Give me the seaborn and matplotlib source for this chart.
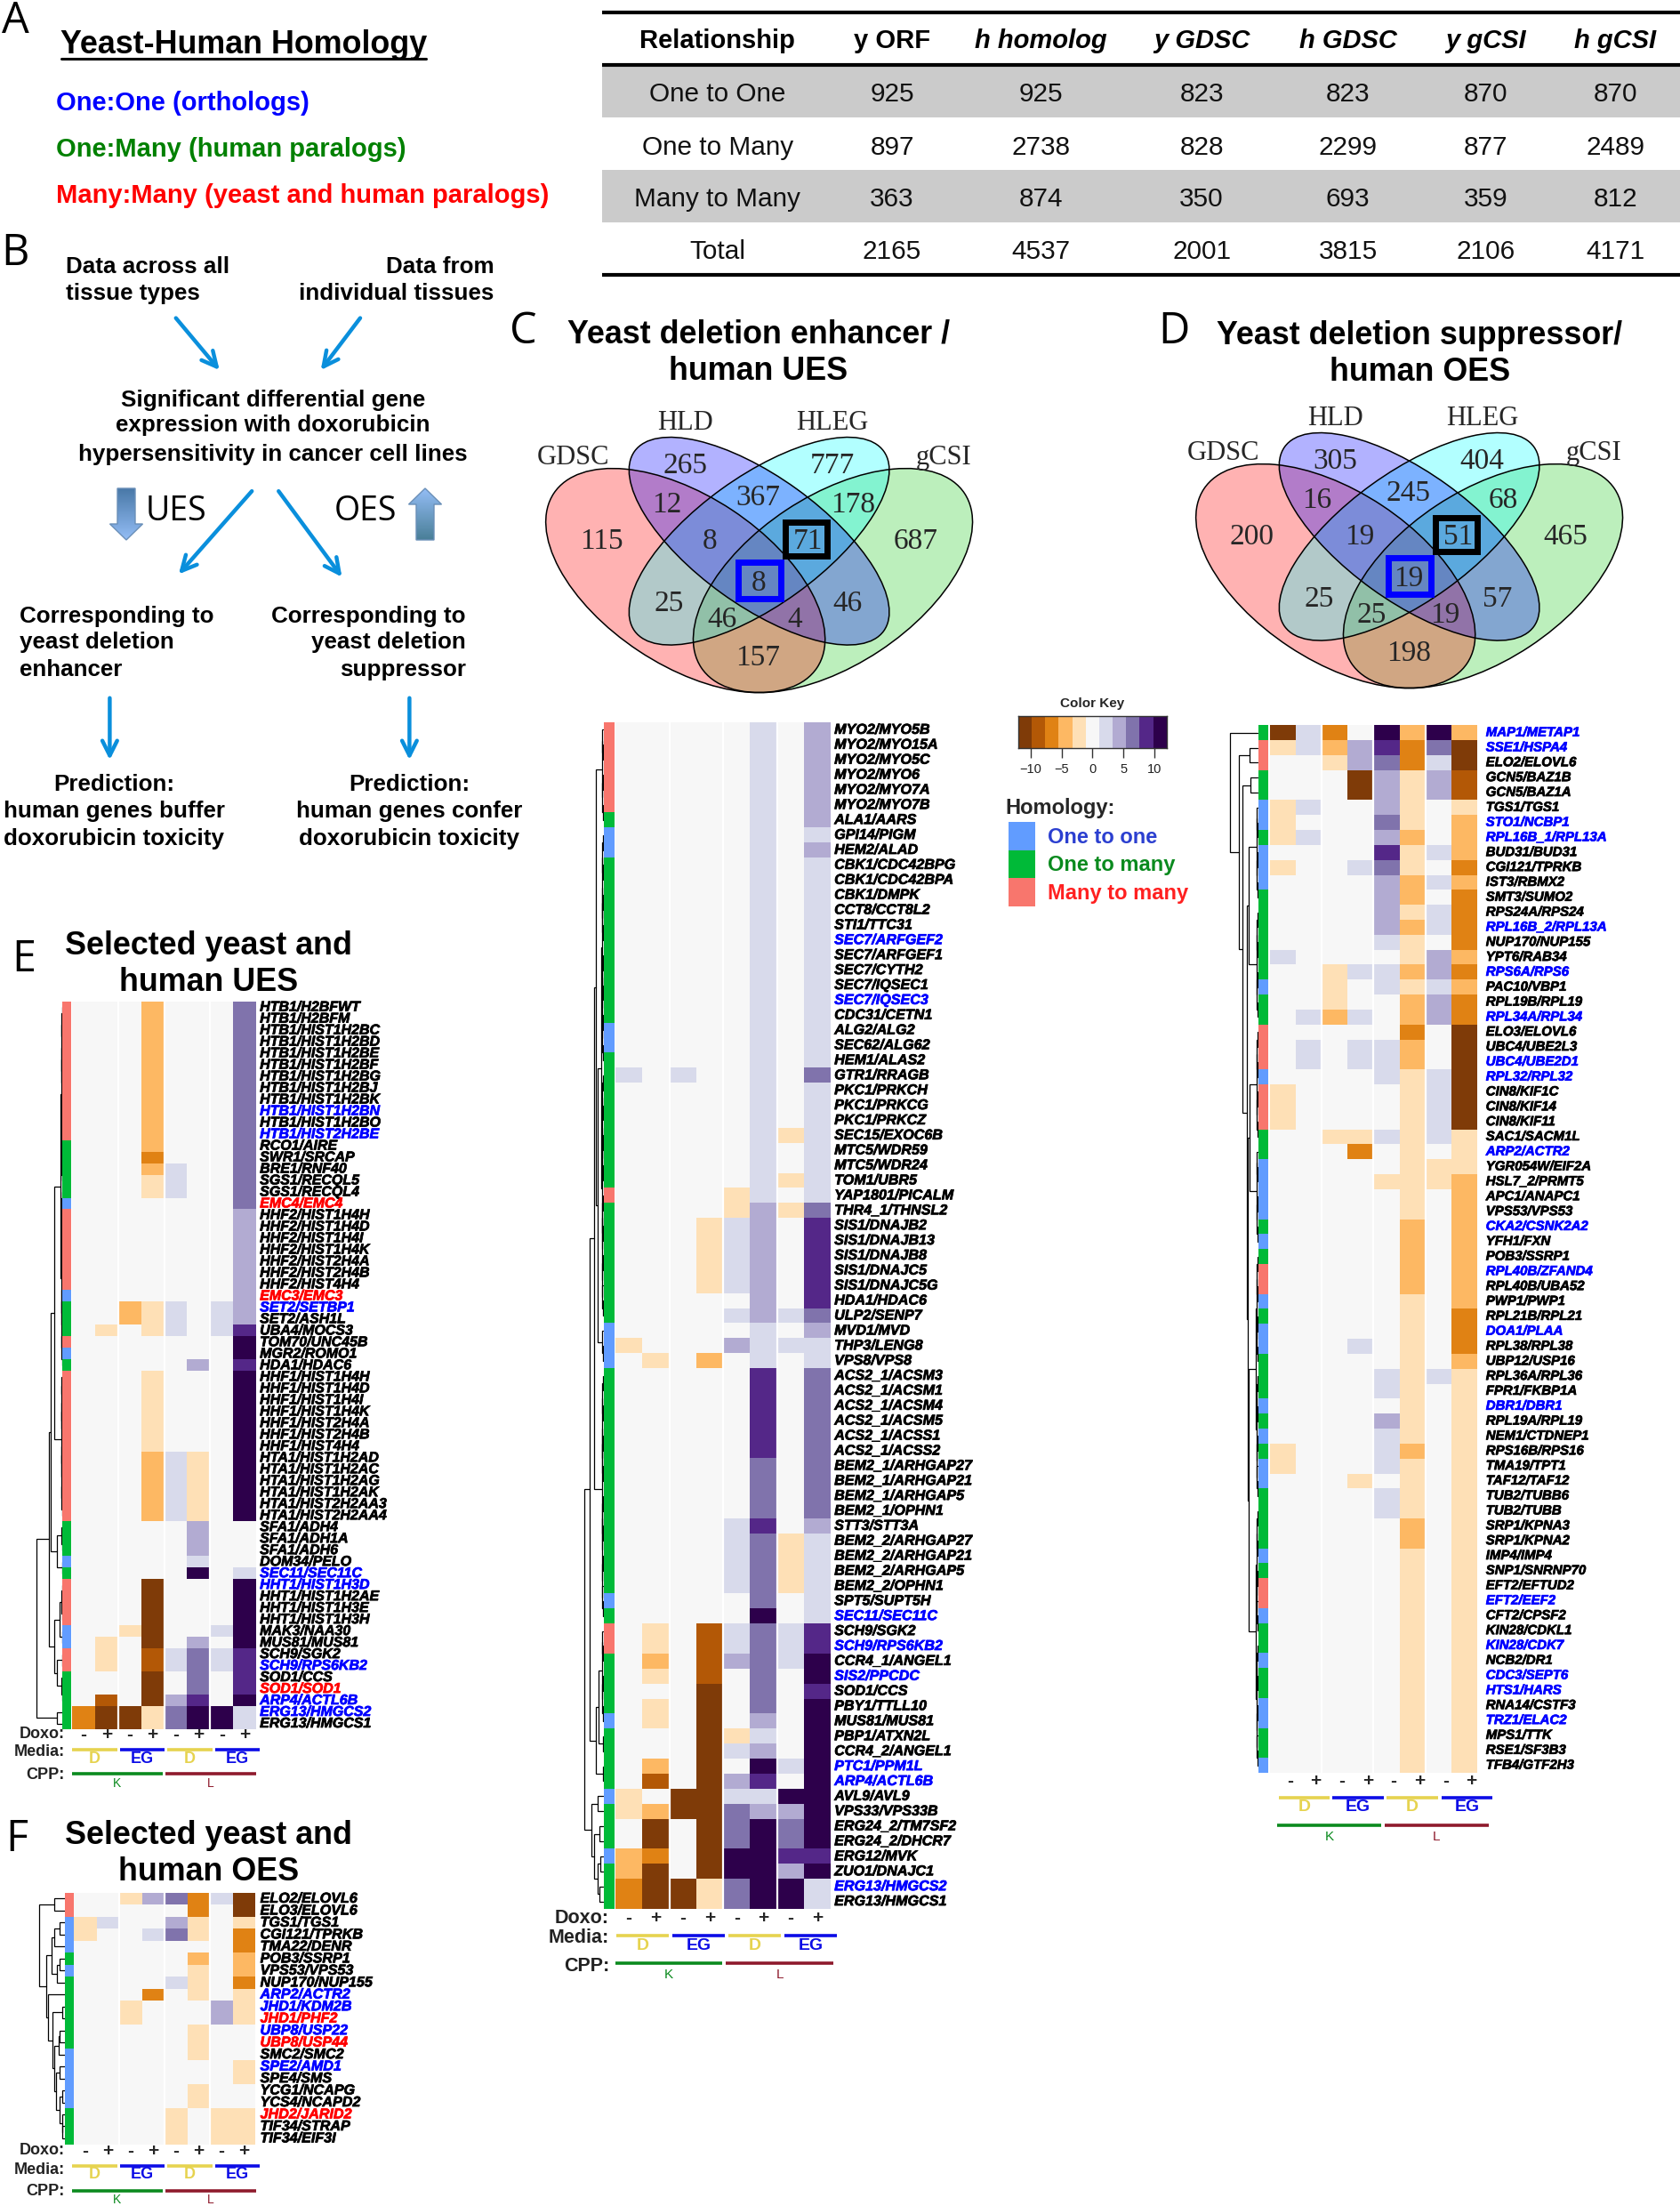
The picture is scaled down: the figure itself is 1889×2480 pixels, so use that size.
import numpy as np
import pandas as pd
import seaborn as sns
import matplotlib
matplotlib.use('Agg')
import matplotlib.pyplot as plt
import matplotlib.patheffects as pe
from matplotlib.colors import ListedColormap, LinearSegmentedColormap
from matplotlib.patches import Ellipse, Rectangle, FancyArrow

sns.set_theme(style='white')
plt.rcParams['font.family'] = ['Liberation Sans', 'DejaVu Sans']

# ---- panel A table
table_header = ['Relationship', 'y ORF', 'h homolog', 'y GDSC', 'h GDSC', 'y gCSI', 'h gCSI']
table_rel = ['One to One', 'One to Many', 'Many to Many', 'Total']
table_y_orf = [925, 897, 363, 2165]
table_h_homolog = [925, 2738, 874, 4537]
table_y_gdsc = [823, 828, 350, 2001]
table_h_gdsc = [823, 2299, 693, 3815]
table_y_gcsi = [870, 877, 359, 2106]
table_h_gcsi = [870, 2489, 812, 4171]

# ---- venn counts, same region order in both diagrams
venn_sets = ['GDSC', 'HLD', 'HLEG', 'gCSI']
venn_c = [265, 777, 115, 12, 367, 178, 8, 71, 687, 25, 8, 46, 46, 4, 157]
venn_d = [305, 404, 200, 16, 245, 68, 19, 51, 465, 25, 19, 57, 25, 19, 198]

# ---- colour key
key_ticks = [-10, -5, 0, 5, 10]
puor = ['#7f3b08', '#b35806', '#e08214', '#fdb863', '#fee0b6', '#f7f7f7',
        '#d8daeb', '#b2abd2', '#8073ac', '#542788', '#2d004b']
key_levels = [-11, -9, -6, -4, -2, 0, 2, 4, 7, 9, 11]
homology_names = ['One to one', 'One to many', 'Many to many']
homology_colors = ['#619CFF', '#00BA38', '#F8766D']
doxo_signs = ['-', '+', '-', '+', '-', '+', '-', '+']

# ---- panel C heatmap
c_labels = ['MYO2/MYO5B', 'MYO2/MYO15A', 'MYO2/MYO5C', 'MYO2/MYO6', 'MYO2/MYO7A', 'MYO2/MYO7B', 'ALA1/AARS',
            'GPI14/PIGM', 'HEM2/ALAD', 'CBK1/CDC42BPG', 'CBK1/CDC42BPA', 'CBK1/DMPK', 'CCT8/CCT8L2', 'STI1/TTC31',
            'SEC7/ARFGEF2', 'SEC7/ARFGEF1', 'SEC7/CYTH2', 'SEC7/IQSEC1', 'SEC7/IQSEC3', 'CDC31/CETN1', 'ALG2/ALG2',
            'SEC62/ALG62', 'HEM1/ALAS2', 'GTR1/RRAGB', 'PKC1/PRKCH', 'PKC1/PRKCG', 'PKC1/PRKCZ', 'SEC15/EXOC6B',
            'MTC5/WDR59', 'MTC5/WDR24', 'TOM1/UBR5', 'YAP1801/PICALM', 'THR4_1/THNSL2', 'SIS1/DNAJB2', 'SIS1/DNAJB13',
            'SIS1/DNAJB8', 'SIS1/DNAJC5', 'SIS1/DNAJC5G', 'HDA1/HDAC6', 'ULP2/SENP7', 'MVD1/MVD', 'THP3/LENG8',
            'VPS8/VPS8', 'ACS2_1/ACSM3', 'ACS2_1/ACSM1', 'ACS2_1/ACSM4', 'ACS2_1/ACSM5', 'ACS2_1/ACSS1', 'ACS2_1/ACSS2',
            'BEM2_1/ARHGAP27', 'BEM2_1/ARHGAP21', 'BEM2_1/ARHGAP5', 'BEM2_1/OPHN1', 'STT3/STT3A', 'BEM2_2/ARHGAP27',
            'BEM2_2/ARHGAP21', 'BEM2_2/ARHGAP5', 'BEM2_2/OPHN1', 'SPT5/SUPT5H', 'SEC11/SEC11C', 'SCH9/SGK2',
            'SCH9/RPS6KB2', 'CCR4_1/ANGEL1', 'SIS2/PPCDC', 'SOD1/CCS', 'PBY1/TTLL10', 'MUS81/MUS81', 'PBP1/ATXN2L',
            'CCR4_2/ANGEL1', 'PTC1/PPM1L', 'ARP4/ACTL6B', 'AVL9/AVL9', 'VPS33/VPS33B', 'ERG24_2/TM7SF2',
            'ERG24_2/DHCR7', 'ERG12/MVK', 'ZUO1/DNAJC1', 'ERG13/HMGCS2', 'ERG13/HMGCS1']
c_blue = ['SEC7/ARFGEF2', 'SEC7/IQSEC3', 'SEC11/SEC11C', 'SCH9/RPS6KB2', 'SIS2/PPCDC', 'PTC1/PPM1L', 'ARP4/ACTL6B', 'ERG13/HMGCS2']
c_red = []
c_homology = ('RRRRRR' 'G' 'BB' 'GGGGGGGGGGG' 'BB' 'GGGGGGGGG' 'R' 'GGGGGGGG' 'BBB' 'GGGGGGGGGGGGGGG'
              'B' 'G' 'RR' 'GGGG' 'B' 'GGGG' 'B' 'GGG' 'B' 'GGG')
c_values = [
    [0, 0, 0, 0, 0, 2, 0, 4], [0, 0, 0, 0, 0, 2, 0, 4], [0, 0, 0, 0, 0, 2, 0, 4], [0, 0, 0, 0, 0, 2, 0, 4],
    [0, 0, 0, 0, 0, 2, 0, 4], [0, 0, 0, 0, 0, 2, 0, 4], [0, 0, 0, 0, 0, 2, 0, 4], [0, 0, 0, 0, 0, 2, 0, 2],
    [0, 0, 0, 0, 0, 2, 0, 4], [0, 0, 0, 0, 0, 2, 0, 2], [0, 0, 0, 0, 0, 2, 0, 2], [0, 0, 0, 0, 0, 2, 0, 2],
    [0, 0, 0, 0, 0, 2, 0, 2], [0, 0, 0, 0, 0, 2, 0, 2], [0, 0, 0, 0, 0, 2, 0, 2], [0, 0, 0, 0, 0, 2, 0, 2],
    [0, 0, 0, 0, 0, 2, 0, 2], [0, 0, 0, 0, 0, 2, 0, 2], [0, 0, 0, 0, 0, 2, 0, 2], [0, 0, 0, 0, 0, 2, 0, 2],
    [0, 0, 0, 0, 0, 2, 0, 2], [0, 0, 0, 0, 0, 2, 0, 2], [0, 0, 0, 0, 0, 2, 0, 2], [2, 0, 2, 0, 0, 2, 0, 7],
    [0, 0, 0, 0, 0, 2, 0, 2], [0, 0, 0, 0, 0, 2, 0, 2], [0, 0, 0, 0, 0, 2, 0, 2], [0, 0, 0, 0, 0, 2, -2, 2],
    [0, 0, 0, 0, 0, 2, 0, 2], [0, 0, 0, 0, 0, 2, 0, 2], [0, 0, 0, 0, 0, 2, -2, 2], [0, 0, 0, 0, -2, 2, 0, 2],
    [0, 0, 0, 0, -2, 4, -2, 7], [0, 0, 0, -2, 2, 4, 0, 9], [0, 0, 0, -2, 2, 4, 0, 9], [0, 0, 0, -2, 2, 4, 0, 9],
    [0, 0, 0, -2, 2, 4, 0, 9], [0, 0, 0, -2, 2, 4, 0, 9], [0, 0, 0, 0, 0, 4, 0, 9], [0, 0, 0, 0, 2, 4, 2, 7],
    [0, 0, 0, 0, 0, 2, 0, 4], [-2, 0, 0, 0, 4, 2, 2, 2], [0, -2, 0, -4, 0, 2, 0, 2], [0, 0, 0, 0, 0, 9, 0, 7],
    [0, 0, 0, 0, 0, 9, 0, 7], [0, 0, 0, 0, 0, 9, 0, 7], [0, 0, 0, 0, 0, 9, 0, 7], [0, 0, 0, 0, 0, 9, 0, 7],
    [0, 0, 0, 0, 0, 9, 0, 7], [0, 0, 0, 0, 0, 7, 0, 7], [0, 0, 0, 0, 0, 7, 0, 7], [0, 0, 0, 0, 0, 7, 0, 7],
    [0, 0, 0, 0, 0, 7, 0, 7], [0, 0, 0, 0, 2, 9, 0, 4], [0, 0, 0, 0, 2, 7, -2, 2], [0, 0, 0, 0, 2, 7, -2, 2],
    [0, 0, 0, 0, 2, 7, -2, 2], [0, 0, 0, 0, 2, 7, -2, 2], [0, 0, 0, 0, 0, 7, 0, 2], [0, 0, 0, 0, 0, 11, 0, 2],
    [0, -2, 0, -9, 2, 7, 2, 9], [0, -2, 0, -9, 2, 7, 2, 9], [0, -4, 0, -9, 4, 7, 2, 11], [0, -2, 0, -9, 0, 7, 0, 11],
    [0, 0, 0, -11, 0, 7, 0, 9], [0, -2, 0, -11, 0, 7, 0, 11], [0, -2, 0, -11, 0, 4, 0, 11], [0, 0, 0, -11, -2, 2, 0, 11],
    [0, 0, 0, -11, 2, 4, 0, 11], [0, -4, 0, -11, 0, 11, 2, 11], [0, -9, 0, -11, 4, 9, 0, 11], [-2, 0, -11, -11, 2, 2, 11, 11],
    [-2, -4, -11, -11, 7, 4, 4, 11], [0, -11, 0, -11, 7, 11, 7, 11], [0, -11, 0, -11, 7, 11, 7, 11], [-4, -6, 0, -11, 11, 11, 9, 9],
    [-4, -11, 0, -11, 11, 11, 4, 11], [-6, -11, -11, -2, 7, 11, 11, 2], [-6, -11, -11, -2, 7, 11, 11, 2]]
# dendrogram: (height, left, right), a plain integer is a tight clade of that many rows
c_tree = (1.0, (0.72, (0.5, (0.36, 7, (0.3, 33, 3)), 17), (0.4, (0.25, 7, 2), 2)),
          (0.62, (0.3, 1, 1), (0.5, (0.2, 1, 1), (0.3, (0.15, 1, 1), (0.2, 1, 1)))))

# ---- panel D heatmap
d_labels = ['MAP1/METAP1', 'SSE1/HSPA4', 'ELO2/ELOVL6', 'GCN5/BAZ1B', 'GCN5/BAZ1A', 'TGS1/TGS1', 'STO1/NCBP1',
            'RPL16B_1/RPL13A', 'BUD31/BUD31', 'CGI121/TPRKB', 'IST3/RBMX2', 'SMT3/SUMO2', 'RPS24A/RPS24',
            'RPL16B_2/RPL13A', 'NUP170/NUP155', 'YPT6/RAB34', 'RPS6A/RPS6', 'PAC10/VBP1', 'RPL19B/RPL19',
            'RPL34A/RPL34', 'ELO3/ELOVL6', 'UBC4/UBE2L3', 'UBC4/UBE2D1', 'RPL32/RPL32', 'CIN8/KIF1C', 'CIN8/KIF14',
            'CIN8/KIF11', 'SAC1/SACM1L', 'ARP2/ACTR2', 'YGR054W/EIF2A', 'HSL7_2/PRMT5', 'APC1/ANAPC1', 'VPS53/VPS53',
            'CKA2/CSNK2A2', 'YFH1/FXN', 'POB3/SSRP1', 'RPL40B/ZFAND4', 'RPL40B/UBA52', 'PWP1/PWP1', 'RPL21B/RPL21',
            'DOA1/PLAA', 'RPL38/RPL38', 'UBP12/USP16', 'RPL36A/RPL36', 'FPR1/FKBP1A', 'DBR1/DBR1', 'RPL19A/RPL19',
            'NEM1/CTDNEP1', 'RPS16B/RPS16', 'TMA19/TPT1', 'TAF12/TAF12', 'TUB2/TUBB6', 'TUB2/TUBB', 'SRP1/KPNA3',
            'SRP1/KPNA2', 'IMP4/IMP4', 'SNP1/SNRNP70', 'EFT2/EFTUD2', 'EFT2/EEF2', 'CFT2/CPSF2', 'KIN28/CDKL1',
            'KIN28/CDK7', 'NCB2/DR1', 'CDC3/SEPT6', 'HTS1/HARS', 'RNA14/CSTF3', 'TRZ1/ELAC2', 'MPS1/TTK', 'RSE1/SF3B3',
            'TFB4/GTF2H3']
d_blue = ['MAP1/METAP1', 'SSE1/HSPA4', 'STO1/NCBP1', 'RPL16B_1/RPL13A', 'RPL16B_2/RPL13A', 'RPS6A/RPS6', 'RPL34A/RPL34',
          'UBC4/UBE2D1', 'RPL32/RPL32', 'ARP2/ACTR2', 'CKA2/CSNK2A2', 'RPL40B/ZFAND4', 'DOA1/PLAA', 'DBR1/DBR1',
          'EFT2/EEF2', 'KIN28/CDK7', 'CDC3/SEPT6', 'HTS1/HARS', 'TRZ1/ELAC2']
d_red = []
d_homology = ('G' 'RR' 'GG' 'BB' 'G' 'BBB' 'GGGGGG' 'B' 'GG' 'RRR' 'B' 'RRR' 'GG' 'BBBB' 'G' 'B' 'G' 'RR' 'B' 'G' 'BB'
              'GGG' 'B' 'G' 'B' 'G' 'BB' 'GGGG' 'B' 'G' 'RR' 'B' 'GG' 'B' 'GG' 'BB' 'GG' 'B')
d_values = [
    [-11, 2, -6, 0, 11, -4, 11, -4], [-2, 2, -4, 4, 9, -6, 7, -11], [0, 0, -2, 4, 7, -6, 2, -11],
    [0, 0, 0, -11, 4, -2, 4, -9], [0, 0, 0, -11, 4, -2, 4, -9], [-2, 2, 0, 0, 4, -2, 0, -2],
    [-2, 0, 0, 0, 7, -2, 0, -4], [-2, 2, 0, 0, 4, -4, 0, -4], [0, 0, 0, 0, 9, -2, 2, -4],
    [-2, 0, 0, 2, 7, -2, 0, -6], [0, 0, 0, 0, 4, -4, 2, -4], [0, 0, 0, 0, 4, -4, 0, -6],
    [0, 0, 0, 0, 4, -2, 2, -6], [0, 0, 0, 0, 4, -4, 2, -6], [0, 0, 0, 0, 2, -2, 0, -6],
    [2, 0, 0, 0, 0, -2, 4, -4], [0, 0, -2, 2, 2, -4, 4, -6], [0, 0, -2, 0, 2, -2, 2, -4],
    [0, 0, -2, 0, 0, -4, 4, -6], [0, 2, -4, 2, 0, -4, 4, -6], [0, 0, 0, 0, 0, -6, 0, -11],
    [0, 2, 0, 2, 2, -4, 0, -11], [0, 2, 0, 2, 2, -4, 0, -11], [0, 0, 0, 0, 2, -2, 2, -11],
    [-2, 0, 0, 0, 0, -2, 2, -11], [-2, 0, 0, 0, 0, -2, 2, -11], [-2, 0, 0, 0, 0, -2, 2, -11],
    [0, 0, -2, -2, 2, -2, 2, -2], [0, 0, 0, -6, 0, -2, 0, -2], [0, 0, 0, 0, 0, -2, -2, -2],
    [0, 0, 0, 0, -2, -2, -2, -4], [0, 0, 0, 0, 0, -2, 0, -4], [0, 0, 0, 0, 0, -2, 0, -4],
    [0, 0, 0, 0, 0, -4, 0, -4], [0, 0, 0, 0, 0, -4, 0, -4], [0, 0, 0, 0, 0, -4, 0, -4],
    [0, 0, 0, 0, 0, -4, 0, -4], [0, 0, 0, 0, 0, -4, 0, -4], [0, 0, 0, 0, 0, -2, 0, -4],
    [0, 0, 0, 0, 0, -2, 0, -6], [0, 0, 0, 0, 0, -2, 0, -6], [0, 0, 0, 2, 0, -2, 0, -6],
    [0, 0, 0, 0, 0, -2, 0, -4], [0, 0, 0, 0, 2, -2, 2, -2], [0, 0, 0, 0, 2, -2, 0, -2],
    [0, 0, 0, 0, 0, -2, 0, -2], [0, 0, 0, 0, 4, -2, 0, -2], [0, 0, 0, 0, 2, -2, 0, -2],
    [-2, 0, 0, 0, 2, -4, 0, -2], [-2, 0, 0, 0, 2, -2, 0, -2], [0, 0, 0, -2, 0, -2, 0, -2],
    [0, 0, 0, 0, 2, -2, 0, -2], [0, 0, 0, 0, 2, -2, 0, -2], [0, 0, 0, 0, 0, -4, 0, -2],
    [0, 0, 0, 0, 0, -4, 0, -2], [0, 0, 0, 0, 0, -2, 0, -2], [0, 0, 0, 0, 0, -2, 0, -2],
    [0, 0, 0, 0, 0, -2, 0, -2], [0, 0, 0, 0, 0, -2, 0, -2], [0, 0, 0, 0, 0, -2, 0, -2],
    [0, 0, 0, 0, 0, -2, 0, -2], [0, 0, 0, 0, 0, -2, 0, -2], [0, 0, 0, 0, 0, -2, 0, -2],
    [0, 0, 0, 0, 0, -2, 0, -2], [0, 0, 0, 0, 0, -2, 0, -2], [0, 0, 0, 0, 0, -2, 0, -2],
    [0, 0, 0, 0, 0, -2, 0, -2], [0, 0, 0, 0, 0, -2, 0, -2], [0, 0, 0, 0, 0, -2, 0, -2],
    [0, 0, 0, 0, 0, -2, 0, -2]]
d_tree = (1.0, 1, (0.68, (0.3, 1, 1), (0.55, (0.25, 1, 1), (0.4, (0.32, 7, 8), (0.36, (0.28, 8, 7), (0.33, 17, 18))))))

# ---- panel E heatmap
e_labels = ['HTB1/H2BFWT', 'HTB1/H2BFM', 'HTB1/HIST1H2BC', 'HTB1/HIST1H2BD', 'HTB1/HIST1H2BE', 'HTB1/HIST1H2BF',
            'HTB1/HIST1H2BG', 'HTB1/HIST1H2BJ', 'HTB1/HIST1H2BK', 'HTB1/HIST1H2BN', 'HTB1/HIST1H2BO', 'HTB1/HIST2H2BE',
            'RCO1/AIRE', 'SWR1/SRCAP', 'BRE1/RNF40', 'SGS1/RECQL5', 'SGS1/RECQL4', 'EMC4/EMC4', 'HHF2/HIST1H4H',
            'HHF2/HIST1H4D', 'HHF2/HIST1H4I', 'HHF2/HIST1H4K', 'HHF2/HIST2H4A', 'HHF2/HIST2H4B', 'HHF2/HIST4H4',
            'EMC3/EMC3', 'SET2/SETBP1', 'SET2/ASH1L', 'UBA4/MOCS3', 'TOM70/UNC45B', 'MGR2/ROMO1', 'HDA1/HDAC6',
            'HHF1/HIST1H4H', 'HHF1/HIST1H4D', 'HHF1/HIST1H4I', 'HHF1/HIST1H4K', 'HHF1/HIST2H4A', 'HHF1/HIST2H4B',
            'HHF1/HIST4H4', 'HTA1/HIST1H2AD', 'HTA1/HIST1H2AC', 'HTA1/HIST1H2AG', 'HTA1/HIST1H2AK', 'HTA1/HIST2H2AA3',
            'HTA1/HIST2H2AA4', 'SFA1/ADH4', 'SFA1/ADH1A', 'SFA1/ADH6', 'DOM34/PELO', 'SEC11/SEC11C', 'HHT1/HIST1H3D',
            'HHT1/HIST1H2AE', 'HHT1/HIST1H3E', 'HHT1/HIST1H3H', 'MAK3/NAA30', 'MUS81/MUS81', 'SCH9/SGK2', 'SCH9/RPS6KB2',
            'SOD1/CCS', 'SOD1/SOD1', 'ARP4/ACTL6B', 'ERG13/HMGCS2', 'ERG13/HMGCS1']
e_blue = ['HTB1/HIST1H2BN', 'HTB1/HIST2H2BE', 'SET2/SETBP1', 'SEC11/SEC11C', 'HHT1/HIST1H3D', 'SCH9/RPS6KB2', 'ARP4/ACTL6B', 'ERG13/HMGCS2']
e_red = ['EMC4/EMC4', 'EMC3/EMC3', 'SOD1/SOD1']
e_homology = ('RRRRRRRRRRRR' 'GGGGG' 'B' 'RRRRRRR' 'B' 'GGG' 'R' 'B' 'G' 'RRRRRRRRRRRRR' 'GGG' 'B' 'G' 'RRRR' 'BB' 'RR' 'GGGGG')
e_values = [
    [0, 0, 0, -4, 0, 0, 0, 7], [0, 0, 0, -4, 0, 0, 0, 7], [0, 0, 0, -4, 0, 0, 0, 7], [0, 0, 0, -4, 0, 0, 0, 7],
    [0, 0, 0, -4, 0, 0, 0, 7], [0, 0, 0, -4, 0, 0, 0, 7], [0, 0, 0, -4, 0, 0, 0, 7], [0, 0, 0, -4, 0, 0, 0, 7],
    [0, 0, 0, -4, 0, 0, 0, 7], [0, 0, 0, -4, 0, 0, 0, 7], [0, 0, 0, -4, 0, 0, 0, 7], [0, 0, 0, -4, 0, 0, 0, 7],
    [0, 0, 0, -4, 0, 0, 0, 7], [0, 0, 0, -6, 0, 0, 0, 7], [0, 0, 0, -4, 2, 0, 0, 7], [0, 0, 0, -2, 2, 0, 0, 7],
    [0, 0, 0, -2, 2, 0, 0, 7], [0, 0, 0, 0, 0, 0, 0, 7], [0, 0, 0, 0, 0, 0, 0, 4], [0, 0, 0, 0, 0, 0, 0, 4],
    [0, 0, 0, 0, 0, 0, 0, 4], [0, 0, 0, 0, 0, 0, 0, 4], [0, 0, 0, 0, 0, 0, 0, 4], [0, 0, 0, 0, 0, 0, 0, 4],
    [0, 0, 0, 0, 0, 0, 0, 4], [0, 0, 0, 0, 0, 0, 0, 4], [0, 0, -4, -2, 2, 0, 2, 4], [0, 0, -4, -2, 2, 0, 2, 4],
    [0, -2, 0, -2, 2, 0, 2, 9], [0, 0, 0, 0, 0, 0, 0, 11], [0, 0, 0, 0, 0, 0, 0, 11], [0, 0, 0, 0, 0, 4, 0, 9],
    [0, 0, 0, -2, 0, 0, 0, 11], [0, 0, 0, -2, 0, 0, 0, 11], [0, 0, 0, -2, 0, 0, 0, 11], [0, 0, 0, -2, 0, 0, 0, 11],
    [0, 0, 0, -2, 0, 0, 0, 11], [0, 0, 0, -2, 0, 0, 0, 11], [0, 0, 0, -2, 0, 0, 0, 11], [0, 0, 0, -4, 2, -2, 0, 11],
    [0, 0, 0, -4, 2, -2, 0, 11], [0, 0, 0, -4, 2, -2, 0, 11], [0, 0, 0, -4, 2, -2, 0, 11], [0, 0, 0, -4, 2, -2, 0, 11],
    [0, 0, 0, -4, 2, -2, 0, 11], [0, 0, 0, 0, 0, 4, 0, 0], [0, 0, 0, 0, 0, 4, 0, 0], [0, 0, 0, 0, 0, 4, 0, 0],
    [0, 0, 0, 0, 0, 2, 0, 0], [0, 0, 0, 0, 0, 11, 0, 2], [0, 0, 0, -11, 0, 0, 0, 11], [0, 0, 0, -11, 0, 0, 0, 11],
    [0, 0, 0, -11, 0, 0, 0, 11], [0, 0, 0, -11, 0, 0, 0, 11], [0, 0, -2, -11, 0, 0, 2, 11], [0, -2, 0, -11, 0, 4, 0, 11],
    [0, -2, 0, -9, 2, 7, 2, 9], [0, -2, 0, -9, 2, 7, 2, 9], [0, 0, 0, -11, 0, 7, 0, 9], [0, 0, 0, -11, 0, 7, 0, 9],
    [0, -9, 0, -11, 4, 9, 0, 11], [-6, -11, -11, -2, 7, 11, 11, 2], [-6, -11, -11, -2, 7, 11, 11, 2]]
e_tree = (1.0, (0.52, (0.45, (0.3, 32, 13), (0.2, 3, 2)), (0.3, (0.1, 4, 2), (0.2, 2, 3))), (0.2, 1, 1))

# ---- panel F heatmap
f_labels = ['ELO2/ELOVL6', 'ELO3/ELOVL6', 'TGS1/TGS1', 'CGI121/TPRKB', 'TMA22/DENR', 'POB3/SSRP1', 'VPS53/VPS53',
            'NUP170/NUP155', 'ARP2/ACTR2', 'JHD1/KDM2B', 'JHD1/PHF2', 'UBP8/USP22', 'UBP8/USP44', 'SMC2/SMC2',
            'SPE2/AMD1', 'SPE4/SMS', 'YCG1/NCAPG', 'YCS4/NCAPD2', 'JHD2/JARID2', 'TIF34/STRAP', 'TIF34/EIF3I']
f_blue = ['ARP2/ACTR2', 'JHD1/KDM2B', 'UBP8/USP22', 'SPE2/AMD1']
f_red = ['JHD1/PHF2', 'UBP8/USP44', 'JHD2/JARID2']
f_homology = 'RR' 'BBB' 'G' 'B' 'GGGGGG' 'BBBBB' 'GGG'
f_values = [
    [0, 0, -2, 4, 7, -6, 2, -11], [0, 0, 0, 0, 0, -6, 0, -11], [-2, 2, 0, 0, 4, -2, 0, -2],
    [-2, 0, 0, 2, 7, -2, 0, -6], [0, 0, 0, 0, 0, 0, 0, -6], [0, 0, 0, 0, 0, -4, 0, -4],
    [0, 0, 0, 0, 0, -2, 0, -4], [0, 0, 0, 0, 2, -2, 0, -6], [0, 0, 0, -6, 0, -2, 0, -2],
    [0, 0, -2, 0, 0, 0, 4, -2], [0, 0, -2, 0, 0, 0, 4, -2], [0, 0, 0, 0, 0, -2, 0, 0],
    [0, 0, 0, 0, 0, -2, 0, 0], [0, 0, 0, 0, 0, -2, 0, 0], [0, 0, 0, 0, 0, 0, 0, -2],
    [0, 0, 0, 0, 0, 0, 0, -2], [0, 0, 0, 0, 0, -2, 0, 0], [0, 0, 0, 0, 0, -2, 0, 0],
    [0, 0, 0, 0, -2, 0, -2, -2], [0, 0, 0, 0, -2, 0, -2, -2], [0, 0, 0, 0, -2, 0, -2, -2]]
f_tree = (1.0, (0.42, 1, 1),
          (0.73,
           (0.53, (0.42, (0.2, 1, 1), 1), (0.3, (0.2, 1, 1), 1)),
           (0.65, 1, (0.5, (0.1, 1, 1), (0.42, (0.25, (0.2, 1, 1), 1),
                                         (0.35, (0.2, 1, 1), (0.2, (0.1, 1, 1), (0.1, 1, (0.1, 1, 1)))))))))

W, H = 1889, 2480
fig = plt.figure(figsize=(W / 100, H / 100), dpi=100)
canvas = fig.add_axes([0, 0, 1, 1])
canvas.set_xlim(0, W)
canvas.set_ylim(H, 0)
canvas.axis('off')
k = W / 1194  # positions below were read from the 1194 wide view


def pos_axes(x0, y0, x1, y1):
    return fig.add_axes([x0 / W, 1 - y1 / H, (x1 - x0) / W, (y1 - y0) / H])


def txt(x, y, s, size, ha='center', weight='bold', color='black', style='normal', family=None):
    kw = {}
    if family:
        kw['family'] = family
    canvas.text(x * k, (y + 1.2) * k, s, fontsize=size, ha=ha, va='center', fontweight=weight, color=color, fontstyle=style, **kw)


def clade_lines(n, top):
    # tight cluster of n rows, drawn as a small balanced comb
    if n == 1:
        return top + 0.5, 0.0, []
    a = n // 2
    ya, ha, la = clade_lines(a, top)
    yb, hb, lb = clade_lines(n - a, top + a)
    h = max(ha, hb) + 0.012
    return (ya + yb) / 2, h, la + lb + [(ya, ha, yb, hb, h)]


def tree_lines(node, top):
    if isinstance(node, int):
        y, h, segs = clade_lines(node, top)
        return y, h, node, segs
    h, left, right = node
    ya, ha, na, la = tree_lines(left, top)
    yb, hb, nb, lb = tree_lines(right, top + na)
    return (ya + yb) / 2, h, na + nb, la + lb + [(ya, ha, yb, hb, h)]


def draw_tree(tree, y0, row_h, x_left, x_right):
    _, _, n, segs = tree_lines(tree, 0)
    w = x_right - x_left
    for ya, ha, yb, hb, h in segs:
        xs = [x_right - ha * w, x_right - h * w, x_right - h * w, x_right - hb * w]
        ys = [y0 + ya * row_h, y0 + ya * row_h, y0 + yb * row_h, y0 + yb * row_h]
        canvas.plot(xs, ys, color='black', lw=0.9, solid_joinstyle='miter')


def heat_panel(values, labels, homology, tree, blue, red, box, strip, tree_x, size, pad):
    x0, y0, x1, y1 = box
    df = pd.DataFrame(values, index=labels)
    ax = pos_axes(x0, y0, x1, y1)
    sns.heatmap(df, ax=ax, cmap=ListedColormap(puor), vmin=-12, vmax=12, cbar=False,
                xticklabels=False, yticklabels=labels)
    ax.set_ylabel('')
    ax.yaxis.tick_right()
    ax.tick_params(axis='y', length=0, pad=pad, labelsize=size, labelrotation=0)
    for lab in ax.get_yticklabels():
        lab.set_fontweight('bold')
        lab.set_fontstyle('italic')
        lab.set_verticalalignment('center')
        t = lab.get_text()
        col = '#0000ff' if t in blue else ('#ff0000' if t in red else 'black')
        lab.set_color(col)
        lab.set_path_effects([pe.withStroke(linewidth=0.5, foreground=col)])
    for c in [2, 4, 6]:
        ax.axvline(c, color='white', lw=1.6)
    side = pos_axes(strip[0], y0, strip[1], y1)
    codes = np.array(['BGR'.index(c) for c in homology]).reshape(-1, 1)
    sns.heatmap(codes, ax=side, cmap=ListedColormap(homology_colors), vmin=-0.5, vmax=2.5, cbar=False,
                xticklabels=False, yticklabels=False)
    draw_tree(tree, y0, (y1 - y0) / len(labels), tree_x[0], tree_x[1])


def group_marks(box, dx, off, media_x, cpp_x, size=14, side_labels=None):
    x0, _, x1, y1 = box
    cw = (x1 - x0) / 8
    for i, s in enumerate(doxo_signs):
        canvas.text(x0 + cw * (i + 0.5) + dx, y1 + off[0], s, ha='center', va='center', fontsize=15, fontweight='bold')
    for (a, b), name, col in zip(media_x, ['D', 'EG', 'D', 'EG'], ['#e6d34f', '#0c0ce6', '#e6d34f', '#0c0ce6']):
        canvas.plot([a, b], [y1 + off[1]] * 2, color=col, lw=2.6, solid_capstyle='butt')
        canvas.text((a + b) / 2, y1 + off[2], name, ha='center', va='center', fontsize=size, fontweight='bold', color=col)
    for (a, b), name, col in zip(cpp_x, ['K', 'L'], ['#0b8a1e', '#8e1a2c']):
        canvas.plot([a, b], [y1 + off[3]] * 2, color=col, lw=2.6, solid_capstyle='butt')
        canvas.text((a + b) / 2, y1 + off[4], name, ha='center', va='center', fontsize=size - 3, color=col)
    if side_labels:
        right, ys, fs = side_labels
        for name, y in zip(['Doxo:', 'Media:', 'CPP:'], ys):
            canvas.text(right, y, name, ha='right', va='center', fontsize=fs, fontweight='bold', color='#222222')


def venn(cx, cy, counts):
    # drawing order gCSI, GDSC, HLEG, HLD gives the overlap colours of the original
    centers = [(82.9, 44.3, -33.5, 177.5, 95, '#22cc22'), (-82.9, 44.3, 33.5, 177.5, 95, '#ff0000'),
               (0, 0, -35.8, 172.7, 72.2, '#00ffff'), (0, 0, 35.8, 172.7, 72.2, '#0000ff')]
    for dx, dy, ang, a, b, col in centers:
        canvas.add_patch(Ellipse((cx + dx, cy + dy), 2 * a, 2 * b, angle=ang, facecolor=col, alpha=0.3, edgecolor='none'))
    for dx, dy, ang, a, b, col in centers:
        canvas.add_patch(Ellipse((cx + dx, cy + dy), 2 * a, 2 * b, angle=ang, facecolor='none', edgecolor='black', lw=1.1))
    spots = [(-83, -88), (82, -88), (-177, -3), (-104, -44), (-1, -52), (106, -44), (-56, -3), (55, -3), (176, -3),
             (-101, 67), (-1, 44), (99, 67), (-42, 85), (40, 85), (-1, 128)]
    for (dx, dy), v in zip(spots, counts):
        canvas.text(cx + dx, cy + dy + 3, str(v), ha='center', va='center', fontsize=24, family='Liberation Serif')
    for (dx, dy), name in zip([(-209, -97), (-83, -136), (82, -136), (208, -97)], venn_sets):
        canvas.text(cx + dx, cy + dy + 3, name, ha='center', va='center', fontsize=22, family='Liberation Serif')
    canvas.add_patch(Rectangle((cx + 29.5, cy - 21.7), 47, 38, facecolor='none', edgecolor='black', lw=5))
    canvas.add_patch(Rectangle((cx - 24, cy + 23.5), 48, 41, facecolor='none', edgecolor='#0000ff', lw=5))


def block_arrow(x, y_start, y_end, c_top, c_bottom):
    arrow = FancyArrow(x, y_start, 0, y_end - y_start, width=20, head_width=37, head_length=18,
                       length_includes_head=True, facecolor='none', edgecolor='#6a8fb8', lw=1)
    canvas.add_patch(arrow)
    top, bottom = min(y_start, y_end), max(y_start, y_end)
    shade = LinearSegmentedColormap.from_list('shade', [c_top, c_bottom])
    im = canvas.imshow(np.linspace(0, 1, 40).reshape(-1, 1), extent=(x - 20, x + 20, bottom, top), cmap=shade,
                       aspect='auto', zorder=0.5)
    im.set_clip_path(arrow)
    canvas.set_xlim(0, W)
    canvas.set_ylim(H, 0)


# panel letters
for letter, lx, ly in [('A', 11, 14), ('B', 11, 179), ('C', 372, 235), ('D', 834.5, 235), ('E', 17, 681), ('F', 12, 1306)]:
    txt(lx, ly, letter, 35, weight='normal', family='Open Sans')

# ---- panel A
txt(43, 31, 'Yeast-Human Homology', 25.8, ha='left')
canvas.plot([43.6 * k, 303 * k], [41.8 * k, 41.8 * k], color='black', lw=2.2)
txt(40, 72, 'One:One (orthologs)', 21, ha='left', color='#0000ff')
txt(40, 105, 'One:Many (human paralogs)', 21, ha='left', color='#008000')
txt(40, 138, 'Many:Many (yeast and human paralogs)', 21, ha='left', color='#ff0000')

col_x = [510, 634, 740, 854, 958, 1056, 1148]
columns = [table_rel, table_y_orf, table_h_homolog, table_y_gdsc, table_h_gdsc, table_y_gcsi, table_h_gcsi]
row_y = [66, 104, 141, 178]
for ry, rh in [(75, 57), (190.7, 59.3)]:
    canvas.add_patch(Rectangle((677, ry), W - 677, rh, facecolor='#cbcbcb', edgecolor='none'))
for ly in [14.3, 72.7, 309]:
    canvas.plot([677, W], [ly, ly], color='black', lw=3, solid_capstyle='butt')
for i, (cx, name, col) in enumerate(zip(col_x, table_header, columns)):
    txt(cx, 28, name, 21, style='italic' if i >= 2 else 'normal')
    for ry, v in zip(row_y, col):
        txt(cx, ry - 0.5, str(v), 21.4, weight='normal', color='#111111')

# ---- panel B flow text
for y, s in [(188.5, 'Data across all'), (207.5, 'tissue types')]:
    txt(47, y, s, 18.7, ha='left')
for y, s in [(188.5, 'Data from'), (207.5, 'individual tissues')]:
    txt(351, y, s, 18.7, ha='right')
for y, s in [(283, 'Significant differential gene'), (301, 'expression with doxorubicin'),
             (322, 'hypersensitivity in cancer cell lines')]:
    txt(194, y, s, 18.7)
txt(125, 362.5, 'UES', 27, weight='normal', family='Open Sans')
txt(260, 362.5, 'OES', 27, weight='normal', family='Open Sans')
for y, s in [(437, 'Corresponding to'), (455, 'yeast deletion'), (475, 'enhancer')]:
    txt(14, y, s, 18.7, ha='left')
for y, s in [(437, 'Corresponding to'), (455, 'yeast deletion'), (475, 'suppressor')]:
    txt(331, y, s, 18.7, ha='right')
for y, a, b in [(556, 'Prediction:', 'Prediction:'), (575, 'human genes buffer', 'human genes confer'),
                (595, 'doxorubicin toxicity', 'doxorubicin toxicity')]:
    txt(81, y, a, 18.7)
    txt(291, y, b, 18.7)
for a, b, c, d in [(125, 226, 156, 263), (256, 226, 228, 263), (179, 349, 127, 408), (198, 349, 243, 410),
                   (78, 496, 78, 540), (291, 496, 291, 540)]:
    canvas.annotate('', xy=(c * k, d * k), xytext=(a * k, b * k),
                    arrowprops=dict(arrowstyle='->', color='#0a8fdc', lw=3.2, mutation_scale=30, shrinkA=0, shrinkB=0))
block_arrow(142, 549, 607, '#4a79a8', '#93bdf5')
block_arrow(478, 607, 549, '#93bdf5', '#4a7f98')

# ---- titles
for cx, y, s in [(539, 236.5, 'Yeast deletion enhancer /'), (539, 262.5, 'human UES'),
                 (1009, 237.5, 'Yeast deletion suppressor/'), (1009, 263.5, 'human OES'),
                 (148, 671, 'Selected yeast and'), (148, 697, 'human UES'),
                 (148, 1303, 'Selected yeast and'), (148, 1329, 'human OES')]:
    txt(cx, y, s, 25.8)

venn(853.6, 608.3, venn_c)
venn(1584.6, 603.3, venn_d)

# ---- heat panels
box_c = (692, 812, 934, 2146)
heat_panel(c_values, c_labels, c_homology, c_tree, c_blue, c_red, box_c, (679, 691), (657, 678), 11.6, 3)
group_marks(box_c, 0, (10, 29.5, 41, 61, 74), [(693, 752), (756, 815), (819, 878), (882, 941)], [(692, 812), (816, 937)],
            side_labels=(685, [2156, 2179, 2210], 15.5))

box_d = (1427.7, 815.3, 1661, 1993)
heat_panel(d_values, d_labels, d_homology, d_tree, d_blue, d_red, box_d, (1414.7, 1426), (1383, 1414), 10.8, 7)
group_marks(box_d, 8, (10, 28, 39, 59, 72), [(1438, 1495), (1498, 1556), (1559, 1617), (1621, 1678)], [(1436, 1553), (1557, 1674)])

box_e = (81, 1125.7, 288, 1944)
heat_panel(e_values, e_labels, e_homology, e_tree, e_blue, e_red, box_e, (70, 80), (41, 70), 11.5, 3)
group_marks(box_e, 0, (7, 23, 33, 50, 61), [(81, 132), (135, 185), (188, 239), (242, 292)], [(81, 183), (186, 288)], size=13,
            side_labels=(73, [1950, 1970, 1996], 13))

box_f = (83, 2127.7, 287, 2410.7)
heat_panel(f_values, f_labels, f_homology, f_tree, f_blue, f_red, box_f, (73, 83), (44, 73), 11.6, 4)
group_marks(box_f, 0, (8, 24, 34, 52, 62), [(81, 132), (135, 185), (188, 239), (242, 292)], [(81, 183), (186, 288)], size=13,
            side_labels=(73, [2418, 2439, 2464], 13))

# ---- colour key
key_ax = pos_axes(1145, 805, 1311.7, 841)
sns.heatmap(np.array(key_levels).reshape(1, -1), ax=key_ax, cmap=ListedColormap(puor), vmin=-12, vmax=12, cbar=False,
            xticklabels=False, yticklabels=False)
key_ax.set_xticks([(v + 12) / 24 * len(key_levels) for v in key_ticks])
key_ax.set_xticklabels(['\u2212' + str(-v) if v < 0 else str(v) for v in key_ticks], fontsize=10.5, color='#222222')
key_ax.tick_params(axis='x', length=8, width=1, bottom=True, pad=4, color='#333333')
for sp in key_ax.spines.values():
    sp.set_visible(True)
    sp.set_color('#333333')
    sp.set_linewidth(1)
canvas.text(1228, 791, 'Color Key', ha='center', va='center', fontsize=11, fontweight='bold')

# ---- homology legend
canvas.text(1130, 908, 'Homology:', ha='left', va='center', fontsize=17, fontweight='bold')
for y, col, name, tcol in zip([924, 955.5, 987], homology_colors, homology_names, ['#2b3fd0', '#0a8a1e', '#ff2020']):
    canvas.add_patch(Rectangle((1134, y), 30, 31.5, facecolor=col, edgecolor='none'))
    canvas.text(1178, y + 17, name, ha='left', va='center', fontsize=17, fontweight='bold', color=tcol)

fig.savefig('out.png', dpi=100)
